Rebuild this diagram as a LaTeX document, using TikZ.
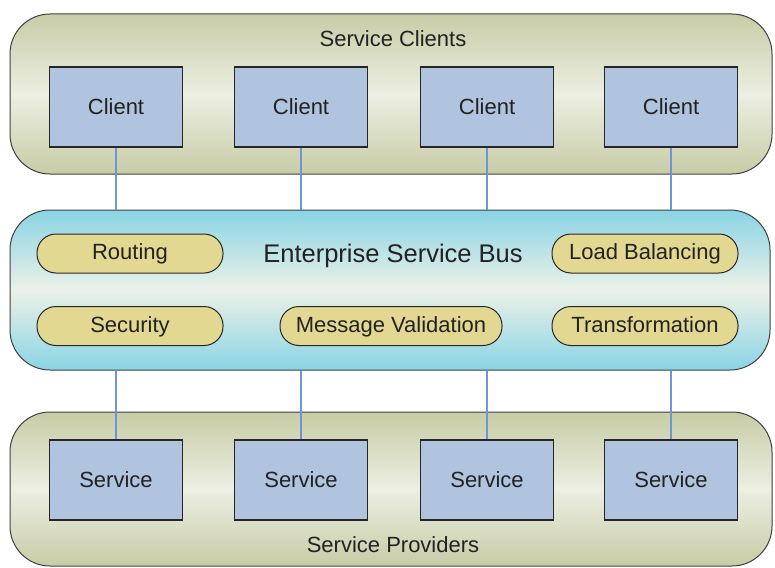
\documentclass[tikz,border=0pt]{standalone}
\usepackage{fontspec}
\setmainfont{Liberation Sans}
\usepackage{tikz}
\usetikzlibrary{shapes}

\definecolor{tieredge}{RGB}{200,204,166}
\definecolor{tiermid}{RGB}{236,239,226}
\definecolor{busedge}{RGB}{138,212,228}
\definecolor{busmid}{RGB}{236,241,232}
\definecolor{boxblue}{RGB}{176,196,224}
\definecolor{pillfill}{RGB}{226,216,146}
\definecolor{linkblue}{RGB}{110,150,210}
\definecolor{inktext}{RGB}{34,34,34}

\tikzset{
	tier/.style={rectangle, draw=black!75, line width=1pt, rounded corners=40pt,
		top color=tieredge, bottom color=tieredge, middle color=tiermid,
		minimum width=762pt, inner sep=0pt},
	bus/.style={tier, top color=busedge, bottom color=busedge, middle color=busmid},
	unit/.style={rectangle, draw=black!85, line width=1.2pt, fill=boxblue,
		minimum width=133pt, minimum height=80pt, text=inktext},
	feature/.style={rectangle, draw=black!85, line width=1pt, fill=pillfill,
		rounded corners=19pt, minimum width=186pt, minimum height=39pt, inner sep=0pt,
		text height=16pt, text depth=4pt, text=inktext},
	label/.style={text=inktext},
	link/.style={draw=linkblue, line width=1.2pt}
}

\begin{document}
\begin{tikzpicture}[x=1pt, y=-1pt, font=\fontsize{22}{26}\selectfont]
	\useasboundingbox (0,0) rectangle (775,567);
	% tiers
	\node at (391,94) [tier, minimum height=160pt] (clients) {};
	\node at (391,489) [tier, minimum height=154pt] (providers) {};
	\node at (390,290) [bus, minimum width=760pt, minimum height=160pt] (esb) {};
	\node at (393,39) [label] (clientstitle) {Service Clients};
	\node at (393,545) [label] (providerstitle) {Service Providers};
	\node at (393,256) [label, font=\fontsize{25.5}{30}\selectfont] (esbtitle) {Enterprise Service Bus};
	% clients
	\node at (116,107) [unit] (c1) {Client};
	\node at (301,107) [unit] (c2) {Client};
	\node at (487,107) [unit] (c3) {Client};
	\node at (671,107) [unit] (c4) {Client};
	% services
	\node at (116,480) [unit] (s1) {Service};
	\node at (301,480) [unit] (s2) {Service};
	\node at (487,480) [unit] (s3) {Service};
	\node at (671,480) [unit] (s4) {Service};
	% bus features
	\node at (130,253.5) [feature] (routing) {Routing};
	\node at (645,253.5) [feature] (balancing) {Load Balancing};
	\node at (130,326) [feature] (security) {Security};
	\node at (391,326) [feature, minimum width=222pt] (validation) {Message Validation};
	\node at (645,326) [feature] (transform) {Transformation};
	% links
	\draw[link] (c1.south) -- (c1.south |- esb.north);
	\draw[link] (c2.south) -- (c2.south |- esb.north);
	\draw[link] (c3.south) -- (c3.south |- esb.north);
	\draw[link] (c4.south) -- (c4.south |- esb.north);
	\draw[link] (s1.north |- esb.south) -- (s1.north);
	\draw[link] (s2.north |- esb.south) -- (s2.north);
	\draw[link] (s3.north |- esb.south) -- (s3.north);
	\draw[link] (s4.north |- esb.south) -- (s4.north);
\end{tikzpicture}
\end{document}
